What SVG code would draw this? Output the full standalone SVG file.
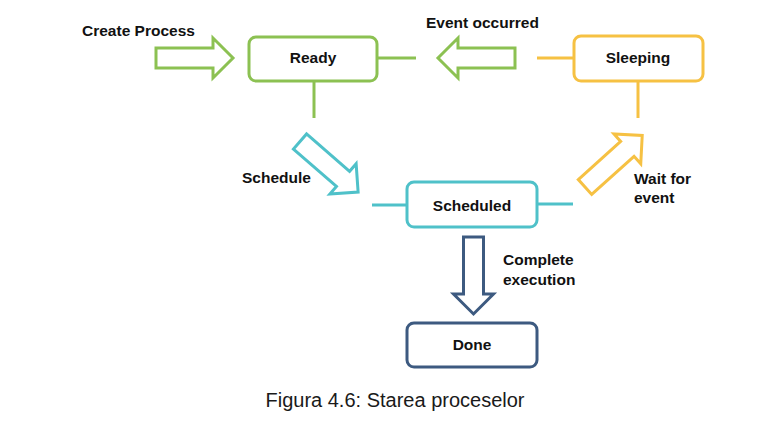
<svg xmlns="http://www.w3.org/2000/svg" width="776" height="428" viewBox="0 0 776 428">
  <style>
    .box { fill: #ffffff; stroke-width: 3; }
    .ln { fill: none; stroke-width: 3; }
    .arr { fill: #ffffff; stroke-width: 3; stroke-linejoin: miter; }
    .g { stroke: #8cc152; }
    .t { stroke: #4fc1c9; }
    .y { stroke: #f6c143; }
    .n { stroke: #3d5a80; }
    .lbl { font-family: "Liberation Sans", Arial, sans-serif; font-weight: bold; font-size: 15.5px; fill: #111111; }
    .node { text-anchor: middle; }
    .cap { font-family: "Liberation Sans", Arial, sans-serif; font-size: 20px; fill: #1a1a1a; text-anchor: middle; }
  </style>
  <defs>
    <path id="blk" d="M0,-10 H57 V-20 L77,0 L57,20 V10 H0 Z"/>
  </defs>
  <rect width="776" height="428" fill="#ffffff"/>

  <g id="connectors">
    <line class="ln g" x1="377" y1="58" x2="416" y2="58"/>
    <line class="ln g" x1="314" y1="81" x2="314" y2="118"/>
    <line class="ln y" x1="537" y1="58" x2="574" y2="58"/>
    <line class="ln y" x1="638" y1="81" x2="638" y2="118"/>
    <line class="ln t" x1="372" y1="205" x2="407" y2="205"/>
    <line class="ln t" x1="537" y1="204" x2="573" y2="204"/>

    <use href="#blk" class="arr g" transform="translate(156,58)"/>
    <use href="#blk" class="arr g" transform="translate(515,58) rotate(180)"/>
    <use href="#blk" class="arr t" transform="translate(300,141.5) rotate(41)"/>
    <use href="#blk" class="arr y" transform="translate(585,187) rotate(-42)"/>
    <use href="#blk" class="arr n" transform="translate(473.5,237) rotate(90)"/>

    <text class="lbl" x="82" y="36">Create Process</text>
    <text class="lbl" x="426" y="28">Event occurred</text>
    <text class="lbl" x="242" y="183">Schedule</text>
    <text class="lbl" x="634" y="184">Wait for</text>
    <text class="lbl" x="634" y="203">event</text>
    <text class="lbl" x="503" y="265">Complete</text>
    <text class="lbl" x="503" y="285">execution</text>
  </g>

  <g id="ready">
    <rect class="box g" x="249" y="37" width="128" height="44" rx="7"/>
    <text class="lbl node" x="313" y="63">Ready</text>
  </g>
  <g id="sleeping">
    <rect class="box y" x="574" y="36" width="129" height="45" rx="7"/>
    <text class="lbl node" x="638" y="63">Sleeping</text>
  </g>
  <g id="scheduled">
    <rect class="box t" x="407" y="182" width="130" height="45" rx="7"/>
    <text class="lbl node" x="472" y="211">Scheduled</text>
  </g>
  <g id="done">
    <rect class="box n" x="407" y="323" width="130" height="44" rx="7"/>
    <text class="lbl node" x="472" y="350">Done</text>
  </g>

  <text class="cap" x="395" y="407">Figura 4.6: Starea proceselor</text>
</svg>
